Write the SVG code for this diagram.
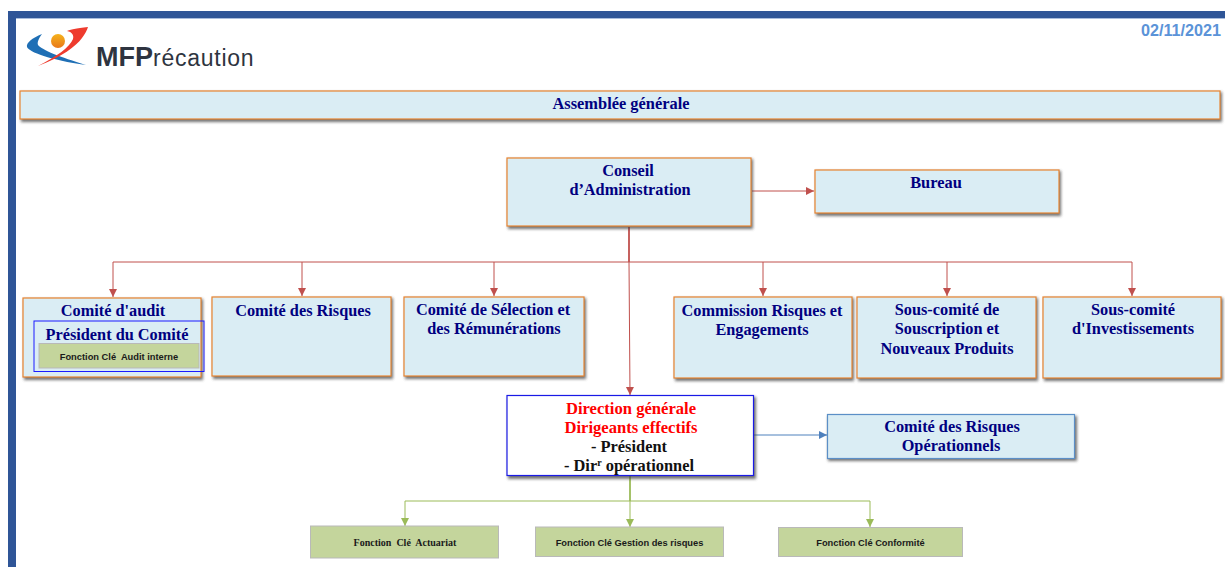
<svg xmlns="http://www.w3.org/2000/svg" width="1225" height="567" viewBox="0 0 1225 567">
<style>
text{font-family:"Liberation Serif","Times New Roman",serif;font-weight:700;text-anchor:middle}
.t{font-size:16.3px;fill:#000080}
.a{font-size:16.4px;fill:#000080}
.r{font-size:16.6px;fill:#ff0000}
.k{font-size:16.4px;fill:#111}
.sa{font-family:"Liberation Sans",Arial,sans-serif;font-size:9.3px;fill:#1a1a1a}
.box{fill:#daedf4;stroke:#e8842f;stroke-width:1.2}
.shadow{fill:#444;opacity:.75;filter:url(#b)}
.green{fill:#c4d59c;stroke:#b9b9b9;stroke-width:1}
.rl{fill:none;stroke:#c0504d;stroke-width:1}
.gl{fill:none;stroke:#9bbb59;stroke-width:1}
</style>
<defs>
<filter id="b" x="-10%" y="-30%" width="120%" height="160%"><feGaussianBlur stdDeviation="1.6"/></filter>
<marker id="mr" markerUnits="userSpaceOnUse" markerWidth="9" markerHeight="9" refX="8" refY="4" orient="auto"><path d="M0 0L8 4L0 8z" fill="#c0504d"/></marker>
<marker id="mg" markerUnits="userSpaceOnUse" markerWidth="9" markerHeight="9" refX="8" refY="4" orient="auto"><path d="M0 0L8 4L0 8z" fill="#9bbb59"/></marker>
<marker id="mb" markerUnits="userSpaceOnUse" markerWidth="9" markerHeight="9" refX="8" refY="4" orient="auto"><path d="M0 0L8 4L0 8z" fill="#4f81bd"/></marker>
<linearGradient id="ball" x1="0" y1="0" x2="0" y2="1"><stop offset="0" stop-color="#f5b21c"/><stop offset="1" stop-color="#e8781a"/></linearGradient>
</defs>

<g id="frame">
<rect x="8" y="11" width="1217" height="7" fill="#2f5597"/>
<rect x="8" y="11" width="8" height="556" fill="#2f5597"/>
<rect x="16" y="18" width="1209" height="1" fill="#a9bcdc"/>
</g>

<g id="logo">
<path d="M42 34C32 38 26 43 27 47C29 52 50 60 86 65C60 57 42 50 38 45C37 42 39 38 42 34Z" fill="#1f6fb5"/>
<path d="M88 27C76 28 70 30 67 31C72 32 74 35 73 39C70 47 56 57 38 66C62 57 76 46 82 38C85 34 87 30 88 27Z" fill="#ee3b2e"/>
<circle cx="58" cy="41" r="7" fill="url(#ball)"/>
<text x="96" y="66" style="font-family:'Liberation Sans',Arial,sans-serif;text-anchor:start;font-size:27px;fill:#2e3440;font-weight:700">MFP<tspan font-weight="400" letter-spacing=".75" font-size="23">récaution</tspan></text>
</g>

<text id="date" x="1181" y="36" style="font-family:'Liberation Sans',Arial,sans-serif;font-size:16.2px;fill:#5b93d8">02/11/2021</text>

<g id="connectors">
<path class="rl" d="M752 191H814" marker-end="url(#mr)"/>
<path d="M629 227V262" fill="none" stroke="#c0504d" stroke-width="1.8"/>
<path class="rl" d="M629 262H113V297" marker-end="url(#mr)"/>
<path class="rl" d="M629 262H1132V296" marker-end="url(#mr)"/>
<path class="rl" d="M302 262V296" marker-end="url(#mr)"/>
<path class="rl" d="M494 262V296" marker-end="url(#mr)"/>
<path class="rl" d="M763 262V296" marker-end="url(#mr)"/>
<path class="rl" d="M947 262V296" marker-end="url(#mr)"/>
<path class="rl" d="M629 262L630 395" marker-end="url(#mr)"/>
<path d="M754 435H827" fill="none" stroke="#4f81bd" stroke-width="1" marker-end="url(#mb)"/>
<path d="M630 476V501" fill="none" stroke="#9bbb59" stroke-width="1.8"/>
<path class="gl" d="M630 501H405V526" marker-end="url(#mg)"/>
<path class="gl" d="M630 501H870V527" marker-end="url(#mg)"/>
<path class="gl" d="M630 501V527" marker-end="url(#mg)"/>
</g>

<g id="assemblee">
<rect class="shadow" x="21" y="92" width="1201" height="30"/>
<rect class="box" x="20" y="91" width="1200" height="28"/>
<text class="a" x="621" y="109">Assemblée générale</text>
</g>
<g id="conseil">
<rect class="shadow" x="508" y="159" width="245" height="70"/>
<rect class="box" x="507" y="158" width="244" height="68"/>
<text class="t" x="628" y="176">Conseil</text>
<text class="t" x="630" y="195">d’Administration</text>
</g>
<g id="bureau">
<rect class="shadow" x="816" y="171" width="245" height="45"/>
<rect class="box" x="815" y="170" width="244" height="43"/>
<text class="a" x="936" y="188">Bureau</text>
</g>
<g id="comite-audit">
<rect class="shadow" x="24" y="299" width="179" height="81"/>
<rect class="box" x="23" y="298" width="178" height="79"/>
<text class="t" x="113" y="316">Comité d'audit</text>
<rect x="34" y="321" width="170" height="50.500" fill="none" stroke="#1a1aff" stroke-width="1"/>
<text class="t" x="117" y="340">Président du Comité</text>
<rect class="green" x="39" y="343.500" width="160" height="24.500"/>
<text class="sa" x="119" y="360">Fonction Clé&#160; Audit interne</text>
</g>
<g id="comite-risques">
<rect class="shadow" x="213" y="298" width="180" height="81"/>
<rect class="box" x="212" y="297" width="179" height="79"/>
<text class="t" x="303" y="316">Comité des Risques</text>
</g>
<g id="comite-selection">
<rect class="shadow" x="405" y="298" width="181" height="81"/>
<rect class="box" x="404" y="297" width="180" height="79"/>
<text class="t" x="493" y="315">Comité de Sélection et</text>
<text class="t" x="494" y="334">des Rémunérations</text>
</g>
<g id="commission">
<rect class="shadow" x="675" y="298" width="179" height="83"/>
<rect class="box" x="674" y="297" width="178" height="81"/>
<text class="t" x="762" y="316">Commission Risques et</text>
<text class="t" x="762" y="335">Engagements</text>
</g>
<g id="souscription">
<rect class="shadow" x="858" y="298" width="180" height="83"/>
<rect class="box" x="857" y="297" width="179" height="81"/>
<text class="t" x="947" y="315">Sous-comité de</text>
<text class="t" x="947" y="334">Souscription et</text>
<text class="t" x="947" y="354">Nouveaux Produits</text>
</g>
<g id="investissements">
<rect class="shadow" x="1044" y="298" width="179" height="83"/>
<rect class="box" x="1043" y="297" width="178" height="81"/>
<text class="t" x="1133" y="315">Sous-comité</text>
<text class="t" x="1133" y="334">d'Investissements</text>
</g>
<g id="direction">
<rect class="shadow" x="508" y="397" width="248" height="82"/>
<rect x="507" y="395.500" width="246.500" height="80" fill="#fff" stroke="#1a1ae6" stroke-width="1.200"/>
<text class="r" x="631" y="414">Direction générale</text>
<text class="r" x="631" y="433">Dirigeants effectifs</text>
<text class="k" x="629" y="452">- Président</text>
<text class="k" x="629" y="471">- Dir<tspan font-size="10" dy="-5">r</tspan><tspan dy="5"> opérationnel</tspan></text>
</g>
<g id="comite-operationnels">
<rect class="shadow" x="828" y="416" width="249" height="45"/>
<rect x="827.500" y="414.500" width="247" height="44" fill="#daedf4" stroke="#5b8fc7" stroke-width="1.200"/>
<text class="t" x="952" y="432">Comité des Risques</text>
<text class="t" x="951" y="451">Opérationnels</text>
</g>
<g id="actuariat">
<rect class="green" x="310.500" y="526" width="188" height="32"/>
<text x="405" y="546" style="font-size:10px;fill:#1a1a1a">Fonction&#160; Clé&#160; Actuariat</text>
</g>
<g id="gestion">
<rect class="green" x="535.500" y="527" width="188" height="29.500"/>
<text class="sa" x="629.500" y="546">Fonction Clé Gestion des risques</text>
</g>
<g id="conformite">
<rect class="green" x="778.500" y="527.500" width="184" height="29"/>
<text class="sa" x="870.500" y="546">Fonction Clé Conformité</text>
</g>
</svg>
